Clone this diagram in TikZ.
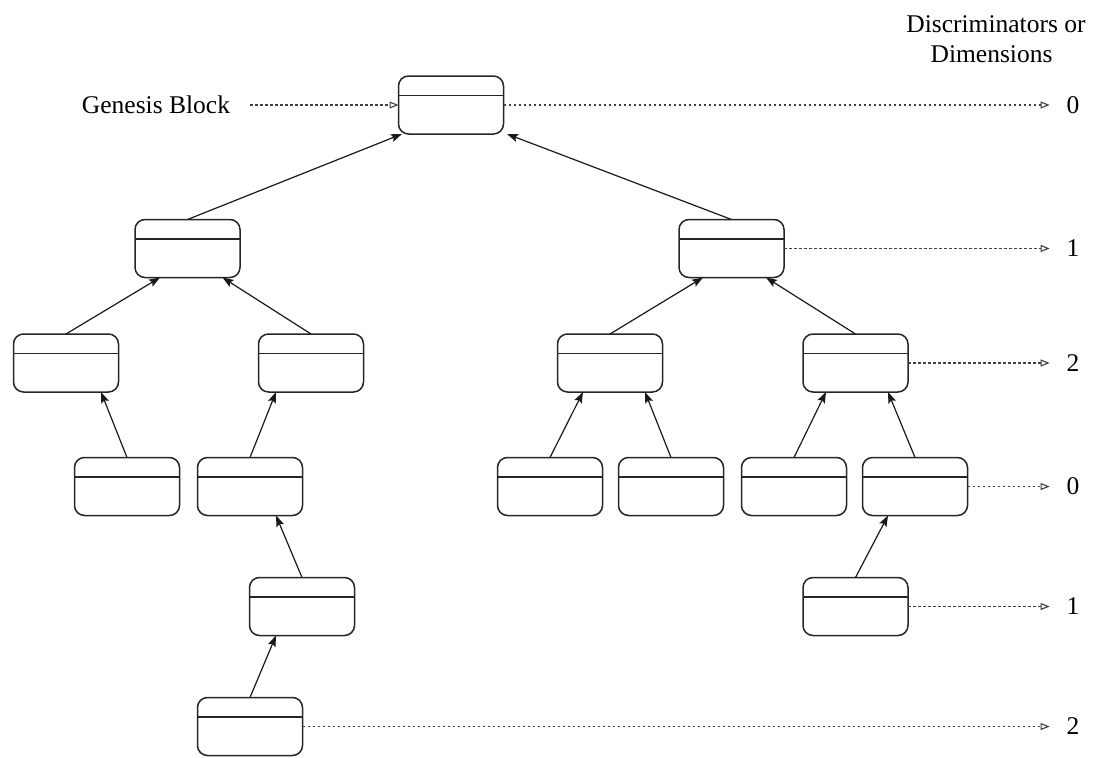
\documentclass[tikz,border=0pt]{standalone}
\usepackage{fontspec}
\setmainfont{Liberation Serif}
\usetikzlibrary{arrows.meta}

\tikzset{
  block/.style={draw=black!85, line width=1.5pt, rounded corners=10pt,
    minimum width=105pt, minimum height=58pt, inner sep=0pt, outer sep=0pt, fill=white},
  divider/.style={draw=black!85, line width=1.5pt},
  link/.style={draw=black!90, line width=1.2pt,
    -{Stealth[length=11pt,width=8pt,inset=2pt]}},
  guide/.style={draw=black!75, line width=1.1pt, dash pattern=on 2.5pt off 2.5pt,
    -{Triangle[open,length=9pt,width=7pt,line width=1.1pt]}},
  txt/.style={font=\fontsize{25.5}{30}\selectfont, inner sep=0pt, outer sep=0pt},
}

\begin{document}
\begin{tikzpicture}[x=1pt, y=-1pt]
\useasboundingbox (0,0) rectangle (1093,758);

% blocks of the chain tree
\node[block] (root) at (451,105) {};
\node[block] (L)  at (187.5,248.5) {};
\node[block] (R)  at (731.5,248.5) {};
\node[block] (LL) at (66,363) {};
\node[block] (LR) at (311,363) {};
\node[block] (RL) at (610,363) {};
\node[block] (RR) at (855.5,363) {};
\node[block] (c1) at (127,486.5) {};
\node[block] (c2) at (250,486.5) {};
\node[block] (c3) at (550,486.5) {};
\node[block] (c4) at (671,486.5) {};
\node[block] (c5) at (794,486.5) {};
\node[block] (c6) at (915,486.5) {};
\node[block] (d1) at (302,606.5) {};
\node[block] (d2) at (855.5,606.5) {};
\node[block] (e1) at (250,726.5) {};

% header line of each block
\foreach \n in {root,L,R,LL,LR,RL,RR,c1,c2,c3,c4,c5,c6,d1,d2,e1}
  \draw[divider] ([yshift=-19.5pt]\n.north west) -- ([yshift=-19.5pt]\n.north east);

% child -> parent links
\draw[link] (L.north)  -- ([xshift=-49pt]root.south);
\draw[link] (R.north)  -- ([xshift=56pt]root.south);
\draw[link] (LL.north) -- ([xshift=-27.5pt]L.south);
\draw[link] (LR.north) -- ([xshift=35pt]L.south);
\draw[link] (RL.north) -- ([xshift=-28.5pt]R.south);
\draw[link] (RR.north) -- ([xshift=34.5pt]R.south);
\draw[link] (c1.north) -- ([xshift=35pt]LL.south);
\draw[link] (c2.north) -- ([xshift=-35pt]LR.south);
\draw[link] (c3.north) -- ([xshift=-27pt]RL.south);
\draw[link] (c4.north) -- ([xshift=35pt]RL.south);
\draw[link] (c5.north) -- ([xshift=-29.5pt]RR.south);
\draw[link] (c6.north) -- ([xshift=32.5pt]RR.south);
\draw[link] (d1.north) -- ([xshift=26pt]c2.south);
\draw[link] (d2.north) -- ([xshift=-27pt]c6.south);
\draw[link] (e1.north) -- ([xshift=-26pt]d1.south);

% labels
\node[txt] (gen) at (156,105) {Genesis Block};
\node[txt, anchor=base] (disc1) at (996,32) {Discriminators or};
\node[txt, anchor=base] (disc2) at (991.5,62) {Dimensions};

\node[txt] (n0) at (1073,105)   {0};
\node[txt] (n1) at (1073,248.5) {1};
\node[txt] (n2) at (1073,363)   {2};
\node[txt] (n3) at (1073,486.5) {0};
\node[txt] (n4) at (1073,606.5) {1};
\node[txt] (n5) at (1073,726.5) {2};

% dotted guides
\draw[guide, shorten <=20pt] (gen.east) -- (root.west);
\draw[guide, shorten >=17pt] (root.east) -- (n0.west);
\draw[guide, shorten >=17pt] (R.east)    -- (n1.west);
\draw[guide, shorten >=17pt] (RR.east)   -- (n2.west);
\draw[guide, shorten >=17pt] (c6.east)   -- (n3.west);
\draw[guide, shorten >=17pt] (d2.east)   -- (n4.west);
\draw[guide, shorten >=17pt] (e1.east)   -- (n5.west);
\end{tikzpicture}
\end{document}
